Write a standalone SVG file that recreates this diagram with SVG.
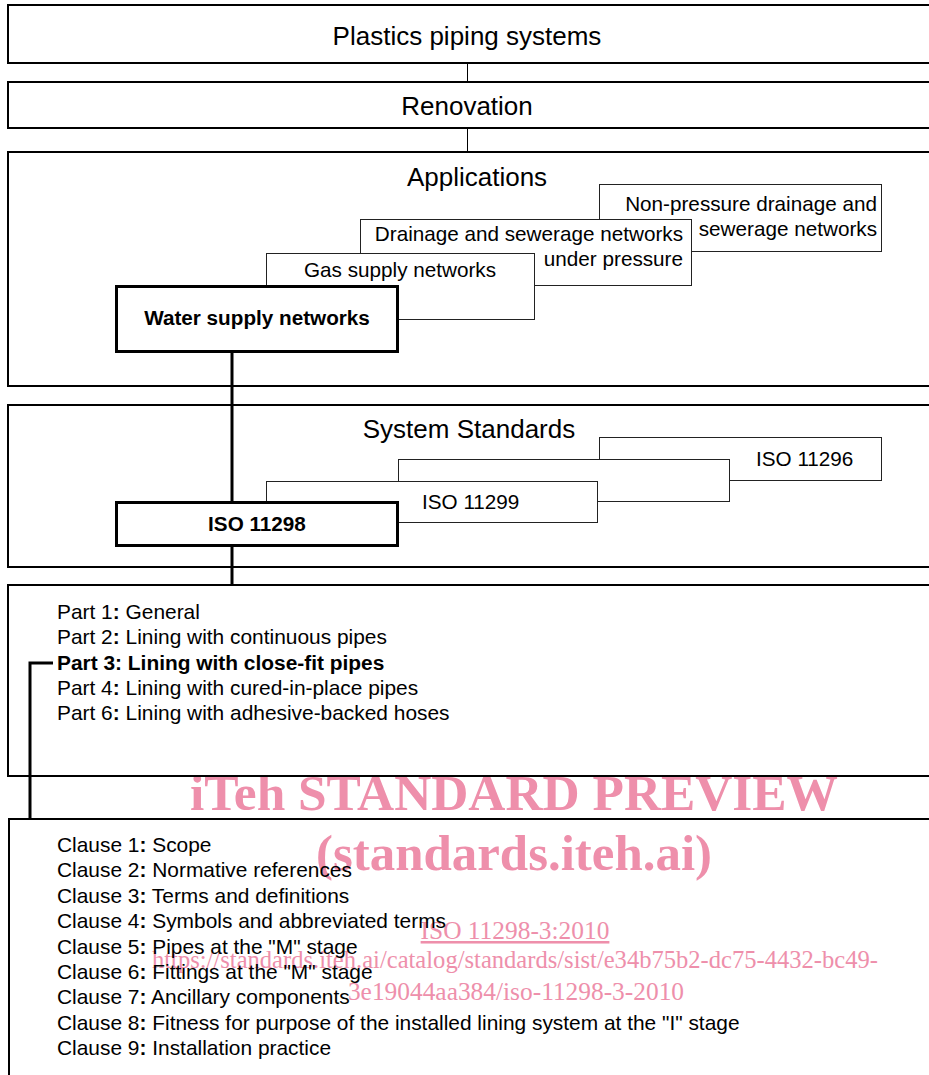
<svg xmlns="http://www.w3.org/2000/svg" width="929" height="1075" viewBox="0 0 929 1075">
<style>
.outer{fill:none;stroke:#000;stroke-width:2}
.inner{fill:#fff;stroke:#222;stroke-width:1}
.key{fill:#fff;stroke:#000;stroke-width:3}
.t{font-family:"Liberation Sans",Arial,sans-serif;fill:#000}
.big{font-size:26px}
.mid{font-size:20.7px}
.lst{font-size:20.9px}
.b{font-weight:bold}
.wm{font-family:"Liberation Serif","Times New Roman",serif;fill:#ee8fab}
.thin{stroke:#000;stroke-width:1;fill:none}
.thick{stroke:#000;stroke-width:3;fill:none}
</style>
<rect width="929" height="1075" fill="#fff"/>
<g id="watermark">
<text class="wm" x="514" y="810" font-size="51" font-weight="bold" text-anchor="middle" textLength="648" lengthAdjust="spacingAndGlyphs">iTeh STANDARD PREVIEW</text>
<text class="wm" x="514" y="870" font-size="51" font-weight="bold" text-anchor="middle" textLength="396" lengthAdjust="spacingAndGlyphs">(standards.iteh.ai)</text>
<text class="wm" x="515" y="939" font-size="25.4" text-anchor="middle" text-decoration="underline">ISO 11298-3:2010</text>
<text class="wm" x="515" y="968" font-size="25.4" text-anchor="middle" textLength="726" lengthAdjust="spacingAndGlyphs">https://standards.iteh.ai/catalog/standards/sist/e34b75b2-dc75-4432-bc49-</text>
<text class="wm" x="516" y="1000" font-size="25.4" text-anchor="middle">3e19044aa384/iso-11298-3-2010</text>
</g>
<g id="connectors">
<line class="thin" x1="467.5" y1="63" x2="467.5" y2="81"/>
<line class="thin" x1="467.5" y1="128" x2="467.5" y2="151"/>
<line class="thick" x1="232" y1="352" x2="232" y2="584"/>
<path class="thick" d="M53,663 H30 V819"/>
</g>
<g id="plastics">
<rect class="outer" x="8" y="5" width="930" height="58"/>
<text class="t big" x="467" y="45" text-anchor="middle">Plastics piping systems</text>
</g>
<g id="renovation">
<rect class="outer" x="8" y="82" width="930" height="46"/>
<text class="t big" x="467" y="115" text-anchor="middle">Renovation</text>
</g>
<g id="applications">
<rect class="outer" x="8" y="152" width="930" height="234"/>
<text class="t big" x="477" y="186" text-anchor="middle">Applications</text>
</g>
<g id="nonpressure">
<rect class="inner" x="599.5" y="184.5" width="282" height="67"/>
<text class="t mid" x="877" y="211" text-anchor="end">Non-pressure drainage and</text>
<text class="t mid" x="877" y="236" text-anchor="end">sewerage networks</text>
</g>
<g id="drainage">
<rect class="inner" x="360.5" y="219.5" width="331" height="66"/>
<text class="t mid" x="683" y="241" text-anchor="end">Drainage and sewerage networks</text>
<text class="t mid" x="683" y="266" text-anchor="end">under pressure</text>
</g>
<g id="gas">
<rect class="inner" x="266.5" y="253.5" width="268" height="66"/>
<text class="t mid" x="400" y="277" text-anchor="middle">Gas supply networks</text>
</g>
<g id="water">
<rect class="key" x="116.5" y="286.5" width="281" height="65"/>
<text class="t mid b" x="257" y="325" text-anchor="middle">Water supply networks</text>
</g>
<g id="systemstandards">
<rect class="outer" x="8" y="405" width="930" height="162"/>
<text class="t big" x="469" y="438" text-anchor="middle">System Standards</text>
</g>
<g id="iso11296">
<rect class="inner" x="599.5" y="437.5" width="282" height="43"/>
<text class="t mid" x="756" y="466">ISO 11296</text>
</g>
<g id="isoblank">
<rect class="inner" x="398.5" y="459.5" width="331" height="42"/>
</g>
<g id="iso11299">
<rect class="inner" x="266.5" y="481.5" width="331" height="41"/>
<text class="t mid" x="422" y="509">ISO 11299</text>
</g>
<g id="iso11298">
<rect class="key" x="116.5" y="502.5" width="281" height="43"/>
<text class="t mid b" x="257" y="531" text-anchor="middle">ISO 11298</text>
</g>
<g id="parts">
<rect class="outer" x="8" y="585" width="930" height="191"/>
<text class="t lst" x="57" y="619">Part 1<tspan class="b">:</tspan> General</text>
<text class="t lst" x="57" y="644.3">Part 2<tspan class="b">:</tspan> Lining with continuous pipes</text>
<text class="t lst b" x="57" y="669.5">Part 3: Lining with close-fit pipes</text>
<text class="t lst" x="57" y="694.8">Part 4<tspan class="b">:</tspan> Lining with cured-in-place pipes</text>
<text class="t lst" x="57" y="720">Part 6<tspan class="b">:</tspan> Lining with adhesive-backed hoses</text>
</g>
<g id="clauses">
<rect class="outer" x="9" y="819" width="930" height="270"/>
<text class="t lst" x="57" y="852">Clause 1<tspan class="b">:</tspan> Scope</text>
<text class="t lst" x="57" y="877.4">Clause 2<tspan class="b">:</tspan> Normative references</text>
<text class="t lst" x="57" y="902.8">Clause 3<tspan class="b">:</tspan> Terms and definitions</text>
<text class="t lst" x="57" y="928.2">Clause 4<tspan class="b">:</tspan> Symbols and abbreviated terms</text>
<text class="t lst" x="57" y="953.6">Clause 5<tspan class="b">:</tspan> Pipes at the "M" stage</text>
<text class="t lst" x="57" y="979">Clause 6<tspan class="b">:</tspan> Fittings at the "M" stage</text>
<text class="t lst" x="57" y="1004.4">Clause 7<tspan class="b">:</tspan> Ancillary components</text>
<text class="t lst" x="57" y="1029.8">Clause 8<tspan class="b">:</tspan> Fitness for purpose of the installed lining system at the "I" stage</text>
<text class="t lst" x="57" y="1055.2">Clause 9<tspan class="b">:</tspan> Installation practice</text>
</g>
</svg>
